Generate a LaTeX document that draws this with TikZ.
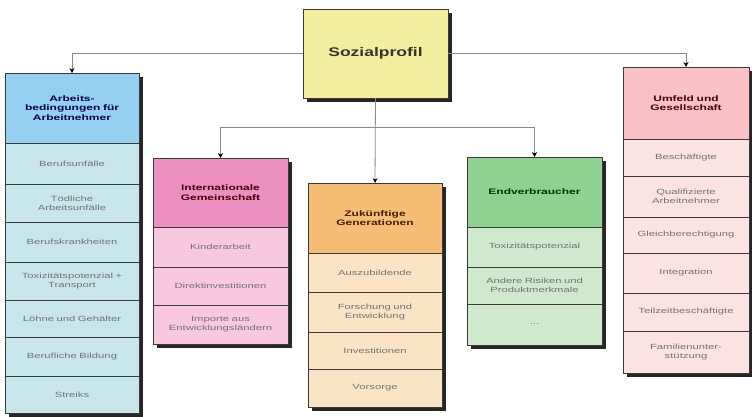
\documentclass[tikz,border=0pt]{standalone}
\usepackage{fontspec}
\setmainfont{Liberation Sans}
\newfontfamily\itemfont[FakeStretch=1.5]{Liberation Sans}
\newfontfamily\headfont[FakeStretch=1.5]{Liberation Sans}
\newfontfamily\rootfont[FakeStretch=1.4]{Liberation Sans}
\usetikzlibrary{arrows.meta}

\definecolor{edgec}{HTML}{3A3A3A}
\definecolor{connc}{HTML}{8A8A8A}
\definecolor{sozfill}{HTML}{F2EE9E}
\definecolor{bluehead}{HTML}{96D0F0}
\definecolor{blueitem}{HTML}{C6E6EC}
\definecolor{pinkhead}{HTML}{EE8FC2}
\definecolor{pinkitem}{HTML}{F7C8E0}
\definecolor{orangehead}{HTML}{F5BE74}
\definecolor{orangeitem}{HTML}{FBE4C6}
\definecolor{greenhead}{HTML}{8FD190}
\definecolor{greenitem}{HTML}{CEE9CC}
\definecolor{rosehead}{HTML}{F9C1C5}
\definecolor{roseitem}{HTML}{FCE2E3}

\tikzset{
  cellbase/.style={draw=edgec, line width=0.8pt, inner sep=0pt, outer sep=0pt, align=center},
  headcell/.style={cellbase, font=\headfont\bfseries\fontsize{8}{9.5}\selectfont},
  itemcell/.style={cellbase, font=\itemfont\fontsize{7.5}{9}\selectfont, text=black!55},
  conn/.style={draw=connc, line width=0.8pt, -{Stealth[length=5pt,width=5pt,color=black]}},
  shadowfill/.style={fill=black!85}
}

% name, x1, y1, x2, y2, style, text
\newcommand\cellnode[7]{%
  \pgfmathsetmacro\cellw{#4-#2}%
  \pgfmathsetmacro\cellh{#5-#3}%
  \pgfmathsetmacro\celltw{#4-#2-6}%
  \node[#6, anchor=north west, minimum width=\cellw pt, minimum height=\cellh pt,
        text width=\celltw pt] (#1) at (#2,#3) {#7};}

% drop shadow of a column: x1, y1, x2, y2
\newcommand\dropshadow[4]{\fill[shadowfill] (#1+4,#2+4) rectangle (#3+4,#4+4);}

\begin{document}
\begin{tikzpicture}[x=1pt,y=-1pt]
\fill[white] (0,0) rectangle (752,416);
\useasboundingbox (0,0) rectangle (752,416);

% shadows
\dropshadow{303}{9}{448}{98}
\dropshadow{5}{73}{139}{413}
\dropshadow{153}{158}{288}{344}
\dropshadow{308}{183}{442}{407}
\dropshadow{467}{157}{602}{345}
\dropshadow{623}{67}{749}{373}

% root
\cellnode{soz}{303}{9}{448}{98}{cellbase, fill=sozfill, text=black!85!yellow!60!black, font=\rootfont\bfseries\fontsize{12.5}{14}\selectfont}{Sozialprofil}

% Arbeitsbedingungen
\cellnode{lh}{5}{73}{139}{143}{headcell, fill=bluehead, text=blue!30!black}{Arbeits-\\bedingungen für\\Arbeitnehmer}
\cellnode{l1}{5}{143}{139}{184}{itemcell, fill=blueitem}{Berufsunfälle}
\cellnode{l2}{5}{184}{139}{222}{itemcell, fill=blueitem}{Tödliche\\Arbeitsunfälle}
\cellnode{l3}{5}{222}{139}{262}{itemcell, fill=blueitem}{Berufskrankheiten}
\cellnode{l4}{5}{262}{139}{300}{itemcell, fill=blueitem}{Toxizitätspotenzial +\\Transport}
\cellnode{l5}{5}{300}{139}{337}{itemcell, fill=blueitem}{Löhne und Gehälter}
\cellnode{l6}{5}{337}{139}{376}{itemcell, fill=blueitem}{Berufliche Bildung}
\cellnode{l7}{5}{376}{139}{413}{itemcell, fill=blueitem}{Streiks}

% Internationale Gemeinschaft
\cellnode{ih}{153}{158}{288}{227}{headcell, fill=pinkhead, text=red!25!black}{Internationale\\Gemeinschaft}
\cellnode{i1}{153}{227}{288}{267}{itemcell, fill=pinkitem}{Kinderarbeit}
\cellnode{i2}{153}{267}{288}{305}{itemcell, fill=pinkitem}{Direktinvestitionen}
\cellnode{i3}{153}{305}{288}{344}{itemcell, fill=pinkitem}{Importe aus\\Entwicklungsländern}

% Zukünftige Generationen
\cellnode{zh}{308}{183}{442}{253}{headcell, fill=orangehead, text=orange!25!black}{Zukünftige\\Generationen}
\cellnode{z1}{308}{253}{442}{292}{itemcell, fill=orangeitem}{Auszubildende}
\cellnode{z2}{308}{292}{442}{332}{itemcell, fill=orangeitem}{Forschung und\\Entwicklung}
\cellnode{z3}{308}{332}{442}{369}{itemcell, fill=orangeitem}{Investitionen}
\cellnode{z4}{308}{369}{442}{407}{itemcell, fill=orangeitem}{Vorsorge}

% Endverbraucher
\cellnode{eh}{467}{157}{602}{227}{headcell, fill=greenhead, text=green!20!black}{Endverbraucher}
\cellnode{e1}{467}{227}{602}{267}{itemcell, fill=greenitem}{Toxizitätspotenzial}
\cellnode{e2}{467}{267}{602}{304}{itemcell, fill=greenitem}{Andere Risiken und\\Produktmerkmale}
\cellnode{e3}{467}{304}{602}{345}{itemcell, fill=greenitem}{...}

% Umfeld und Gesellschaft
\cellnode{rh}{623}{67}{749}{139}{headcell, fill=rosehead, text=red!30!black}{Umfeld und\\Gesellschaft}
\cellnode{r1}{623}{139}{749}{176}{itemcell, fill=roseitem}{Beschäftigte}
\cellnode{r2}{623}{176}{749}{217}{itemcell, fill=roseitem}{Qualifizierte\\Arbeitnehmer}
\cellnode{r3}{623}{217}{749}{253}{itemcell, fill=roseitem}{Gleichberechtigung}
\cellnode{r4}{623}{253}{749}{293}{itemcell, fill=roseitem}{Integration}
\cellnode{r5}{623}{293}{749}{331}{itemcell, fill=roseitem}{Teilzeitbeschäftigte}
\cellnode{r6}{623}{331}{749}{373}{itemcell, fill=roseitem}{Familienunter-\\stützung}

% connectors
\draw[conn] (soz.west) -| (lh.north);
\draw[conn] (soz.east) -| (rh.north);
\draw[conn] (soz.south) -- (zh.north);
\path (soz.south) ++(0,29) coordinate (bus);
\draw[conn] (bus) -| (ih.north);
\draw[conn] (bus) -| (eh.north);
\end{tikzpicture}
\end{document}
